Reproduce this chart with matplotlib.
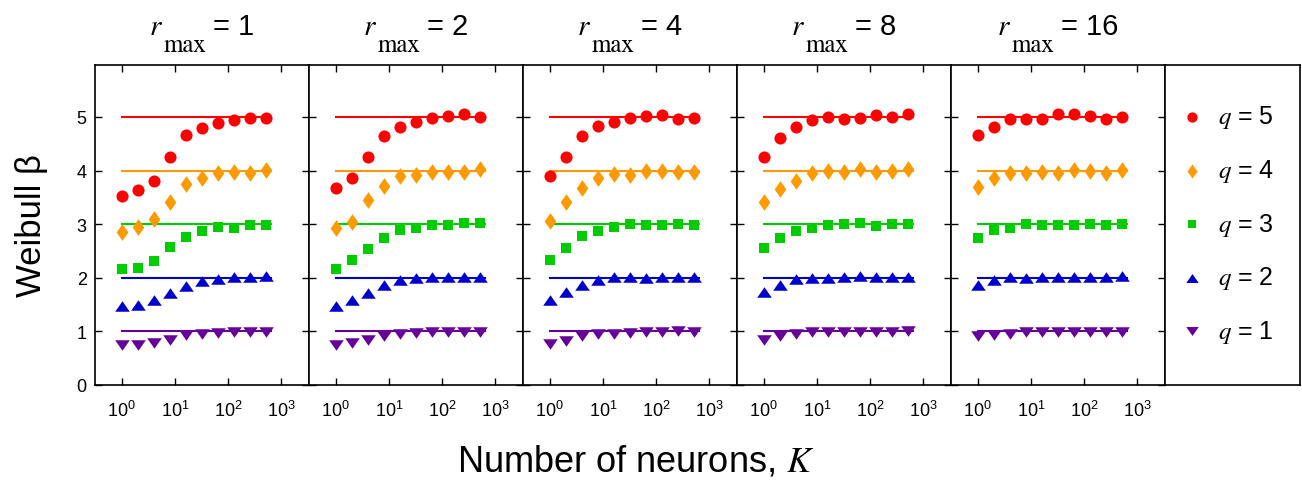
import numpy as np
import matplotlib
matplotlib.use('Agg')
import matplotlib.pyplot as plt
from matplotlib.ticker import NullLocator

plt.rcParams['font.family'] = ['Liberation Sans', 'DejaVu Sans']
plt.rcParams['mathtext.fontset'] = 'stix'

# data
K = [1, 2, 4, 8, 16, 32, 64, 128, 256, 512]
q_values = [5, 4, 3, 2, 1]
r_max = [1, 2, 4, 8, 16]

# rows: q = 5, 4, 3, 2, 1
beta_r1 = [[3.53, 3.64, 3.80, 4.26, 4.66, 4.79, 4.88, 4.95, 4.99, 4.98],
           [2.85, 2.95, 3.09, 3.41, 3.75, 3.86, 3.95, 3.98, 3.95, 4.01],
           [2.16, 2.19, 2.32, 2.57, 2.76, 2.88, 2.95, 2.92, 2.98, 2.99],
           [1.48, 1.49, 1.58, 1.71, 1.85, 1.94, 1.98, 2.01, 2.01, 2.03],
           [0.75, 0.75, 0.79, 0.84, 0.93, 0.96, 0.97, 0.99, 0.99, 0.99]]
beta_r2 = [[3.67, 3.86, 4.26, 4.65, 4.82, 4.91, 4.98, 5.01, 5.06, 5.00],
           [2.92, 3.05, 3.45, 3.72, 3.89, 3.92, 3.98, 3.98, 3.98, 4.03],
           [2.16, 2.33, 2.54, 2.74, 2.89, 2.92, 2.99, 2.99, 3.02, 3.02],
           [1.48, 1.58, 1.72, 1.87, 1.96, 1.99, 2.01, 2.02, 2.01, 2.01],
           [0.75, 0.78, 0.84, 0.91, 0.95, 0.97, 0.99, 0.99, 0.99, 0.99]]
beta_r4 = [[3.89, 4.25, 4.65, 4.83, 4.91, 4.99, 5.02, 5.03, 4.97, 4.99],
           [3.06, 3.42, 3.67, 3.86, 3.93, 3.91, 4.00, 4.00, 3.97, 3.98],
           [2.33, 2.56, 2.78, 2.88, 2.95, 3.00, 2.99, 2.99, 3.01, 2.99],
           [1.58, 1.74, 1.86, 1.95, 2.01, 2.01, 1.99, 2.02, 2.02, 2.01],
           [0.77, 0.83, 0.91, 0.95, 0.95, 0.97, 0.98, 0.99, 1.00, 0.99]]
beta_r8 = [[4.25, 4.61, 4.81, 4.94, 5.00, 4.96, 4.99, 5.03, 5.00, 5.06],
           [3.41, 3.65, 3.81, 3.95, 3.99, 3.97, 4.03, 3.98, 4.00, 4.03],
           [2.56, 2.75, 2.88, 2.92, 2.98, 3.00, 3.02, 2.97, 3.00, 3.00],
           [1.73, 1.87, 1.97, 1.99, 1.99, 2.02, 2.04, 2.01, 2.02, 2.02],
           [0.84, 0.91, 0.95, 0.98, 0.98, 0.98, 0.98, 0.98, 0.98, 1.00]]
beta_r16 = [[4.66, 4.81, 4.96, 4.97, 4.97, 5.06, 5.06, 5.01, 4.96, 5.00],
            [3.69, 3.86, 3.95, 3.95, 3.98, 3.96, 4.01, 3.99, 3.96, 4.01],
            [2.75, 2.90, 2.92, 3.00, 2.99, 2.99, 2.99, 3.01, 2.99, 3.01],
            [1.86, 1.95, 2.01, 1.99, 2.01, 2.01, 2.01, 2.01, 2.02, 2.04],
            [0.91, 0.93, 0.95, 0.98, 0.98, 0.99, 0.98, 0.99, 0.99, 0.98]]

colors = ['#ff0000', '#ff9900', '#00cc00', '#0000cc', '#660099']
tri_up = [(0, 0.72), (-1, -0.72), (1, -0.72)]
tri_down = [(0, -0.72), (-1, 0.72), (1, 0.72)]
diamond = [(0, 1), (0.7, 0), (0, -1), (-0.7, 0)]
markers = ['o', diamond, 's', tri_up, tri_down]
msizes = [8.7, 12.0, 7.0, 10.5, 10.5]

W, H = 1302, 481
fig = plt.figure(figsize=(W / 100, H / 100), dpi=100)

left0, ax_top, ax_bot, panel_w = 95, 66, 386, 214
ax_h = (ax_bot - ax_top) / H
all_beta = [beta_r1, beta_r2, beta_r4, beta_r8, beta_r16]
axes = []
for i, beta in enumerate(all_beta):
    ax = fig.add_axes([(left0 + i * panel_w) / W, (H - ax_bot) / H, panel_w / W, ax_h])
    ax.set_xscale('log')
    for j, q in enumerate(q_values):
        ax.plot([K[0], 650], [q, q], color=colors[j], lw=1.5, zorder=1)
        ax.plot(K, beta[j], ls='none', marker=markers[j], color=colors[j],
                ms=msizes[j], mew=0, zorder=2)
    ax.set_xlim(10 ** -0.5, 10 ** 3.52)
    ax.set_ylim(0, 5.97)
    ax.set_xticks([1, 10, 100, 1000])
    ax.xaxis.set_minor_locator(NullLocator())
    ax.set_yticks(range(6))
    ax.tick_params(direction='in', top=True, right=True, length=5, width=1)
    ax.tick_params(axis='x', labelsize=13, pad=11)
    ax.tick_params(axis='y', labelsize=13, pad=6)
    if i > 0:
        ax.tick_params(labelleft=False)
    for s in ax.spines.values():
        s.set_linewidth(1.2)
    axes.append(ax)

# legend panel
lax = fig.add_axes([(left0 + 5 * panel_w) / W, (H - ax_bot) / H, 135 / W, ax_h])
lax.set_xlim(0, 1)
lax.set_ylim(0, 5.97)
lax.set_xticks([])
lax.set_yticks([])
for s in lax.spines.values():
    s.set_linewidth(1.2)
for j, q in enumerate(q_values):
    lax.plot([0.2], [q], marker=markers[j], color=colors[j], ms=msizes[j] * 0.85, mew=0)
    lax.text(0.39, q, '$q$ = %d' % q, fontsize=18, va='center', ha='left')

# titles: r (italic serif), max (serif subscript), "= n" (sans)
renderer = fig.canvas.get_renderer()
for ax, r in zip(axes, r_max):
    bb = ax.get_position()
    cx = (bb.x0 + bb.x1) / 2 * W
    t1 = fig.text(0, (H - 35) / H, 'r', fontfamily='STIXGeneral', style='italic', fontsize=21, va='baseline')
    t2 = fig.text(0, (H - 52) / H, 'max', fontfamily='STIXGeneral', fontsize=18, va='baseline')
    t3 = fig.text(0, (H - 35) / H, '= %d' % r, fontsize=21, va='baseline')
    w1 = t1.get_window_extent(renderer).width
    w2 = t2.get_window_extent(renderer).width
    w3 = t3.get_window_extent(renderer).width
    x = cx - (w1 + 2 + w2 + 7 + w3) / 2
    t1.set_x(x / W)
    t2.set_x((x + w1 + 2) / W)
    t3.set_x((x + w1 + 2 + w2 + 7) / W)

fig.text(32 / W, 1 - 226 / H, 'Weibull β', rotation=90, fontsize=25, ha='center', va='center')
fig.text(636 / W, 1 - 462 / H, 'Number of neurons, $K$', fontsize=26, ha='center', va='center')

fig.savefig('out.png', dpi=100)
